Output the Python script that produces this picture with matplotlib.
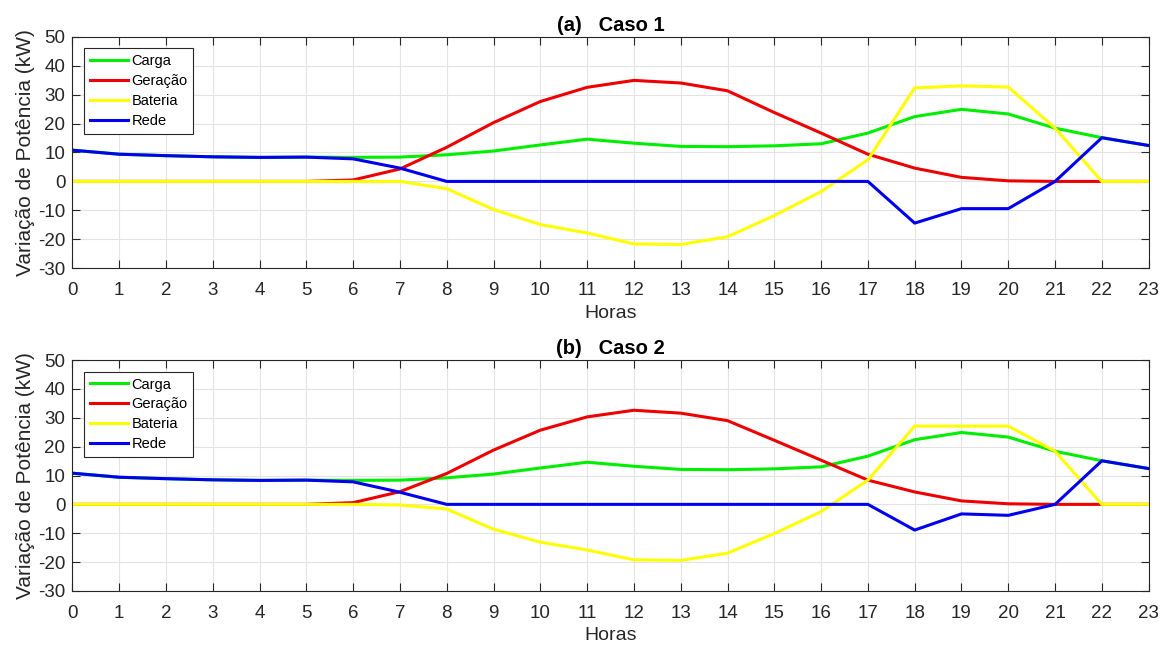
import matplotlib
matplotlib.use("Agg")
import matplotlib.pyplot as plt

plt.rcParams['font.family'] = ['Liberation Sans', 'DejaVu Sans']
plt.rcParams['axes.unicode_minus'] = False

horas = list(range(24))

# Carga e igual nos dois casos
carga = [10.8, 9.4, 8.9, 8.5, 8.3, 8.4, 8.3, 8.4, 9.2, 10.5, 12.6, 14.6,
         13.2, 12.1, 12.0, 12.3, 13.0, 16.7, 22.4, 24.9, 23.3, 18.4, 15.1, 12.4]

# Caso 1
geracao_1 = [0, 0, 0, 0, 0, 0, 0.5, 4.3, 11.8, 20.3, 27.6, 32.5,
             34.9, 34.0, 31.3, 23.8, 16.7, 9.4, 4.6, 1.4, 0.2, 0, 0, 0]
bateria_1 = [0, 0, 0, 0, 0, 0, 0, 0, -2.5, -9.7, -14.9, -17.8,
             -21.6, -21.8, -19.1, -11.8, -3.5, 7.5, 32.3, 33.0, 32.6, 18.4, 0, 0]
rede_1 = [10.8, 9.4, 8.9, 8.5, 8.3, 8.4, 7.8, 4.6, 0, 0, 0, 0,
          0, 0, 0, 0, 0, 0, -14.4, -9.4, -9.4, 0, 15.1, 12.4]

# Caso 2
geracao_2 = [0, 0, 0, 0, 0, 0, 0.6, 4.4, 10.7, 18.8, 25.7, 30.3,
             32.6, 31.6, 29.0, 22.2, 15.3, 8.4, 4.3, 1.2, 0.2, 0, 0, 0]
bateria_2 = [0, 0, 0, 0, 0, 0, 0, -0.2, -1.6, -8.6, -13.1, -15.8,
             -19.2, -19.4, -16.9, -10.1, -2.5, 8.4, 27.1, 27.1, 27.1, 18.4, 0, 0]
rede_2 = [10.8, 9.4, 8.9, 8.5, 8.3, 8.4, 7.8, 4.2, 0, 0, 0, 0,
          0, 0, 0, 0, 0, 0, -8.9, -3.3, -3.8, 0, 15.1, 12.4]

titulos = ["(a)   Caso 1", "(b)   Caso 2"]
cor_txt = '#262626'

fig = plt.figure(figsize=(11.67, 6.48), dpi=100)
ax1 = fig.add_axes([0.062, 0.586, 0.9223, 0.3574])
ax2 = fig.add_axes([0.062, 0.088, 0.9223, 0.3564])

casos = [(ax1, geracao_1, bateria_1, rede_1, titulos[0]),
         (ax2, geracao_2, bateria_2, rede_2, titulos[1])]

for ax, ger, bat, rede, tit in casos:
    ax.plot(horas, carga, color='#00ee00', lw=2.2, label='Carga')
    ax.plot(horas, ger, color='#ee0000', lw=2.2, label='Geração')
    ax.plot(horas, bat, color='#ffff00', lw=2.2, label='Bateria')
    ax.plot(horas, rede, color='#0000ee', lw=2.2, label='Rede')

    ax.set_xlim(0, 23)
    ax.set_ylim(-30, 50)
    ax.set_xticks(horas)
    ax.set_yticks(range(-30, 51, 10))
    ax.grid(True, color='#e3e3e3', lw=0.8)
    ax.set_axisbelow(True)
    ax.tick_params(direction='in', length=6, width=0.8, top=True, right=True,
                   labelsize=13.5, colors=cor_txt)
    ax.tick_params(axis='x', pad=10)
    ax.tick_params(axis='y', pad=5)
    for s in ax.spines.values():
        s.set_color('#262626')
        s.set_linewidth(0.8)

    ax.set_xlabel('Horas', fontsize=14, color=cor_txt, labelpad=4)
    ax.set_ylabel('Variação de Potência (kW)', fontsize=15, color=cor_txt, labelpad=2)
    ax.set_title(tit, fontsize=14.5, fontweight='bold', color='black', pad=4)

    leg = ax.legend(loc='upper left', fontsize=10.5, fancybox=False, framealpha=1,
                    edgecolor='#262626', handlelength=2.6, handletextpad=0.25,
                    labelspacing=0.4, borderpad=0.4, borderaxespad=0.8)
    leg.get_frame().set_linewidth(0.8)

fig.savefig('out.png', dpi=100)
